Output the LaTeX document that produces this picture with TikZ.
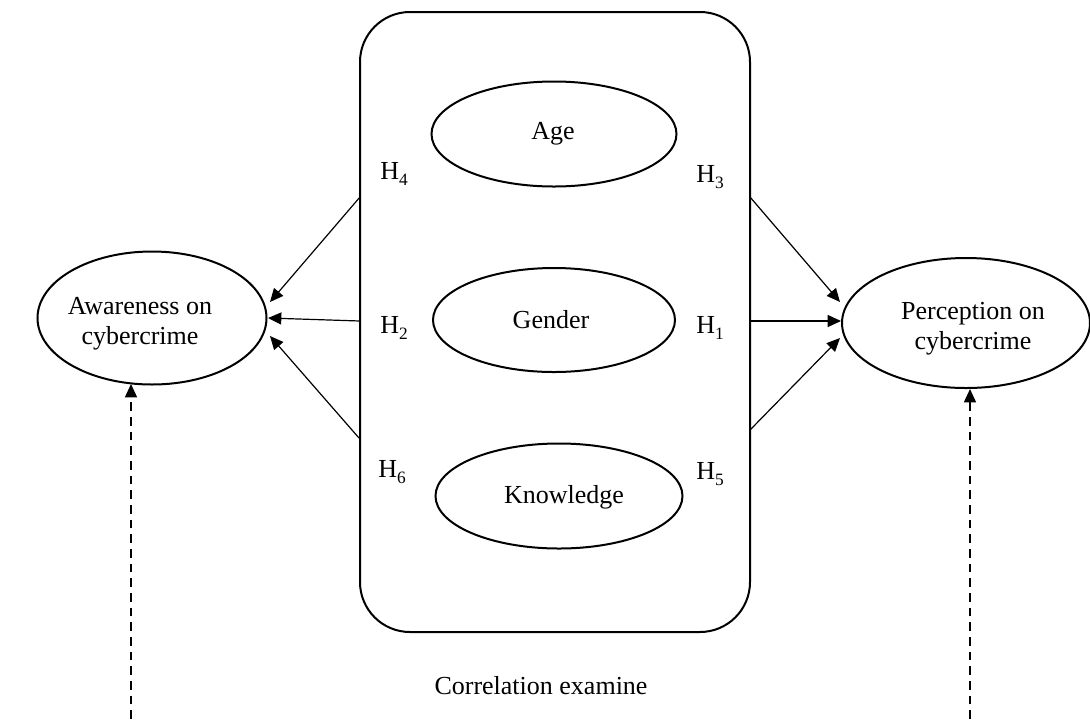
\documentclass[tikz,border=0pt]{standalone}
\usepackage{fontspec}
\setmainfont{Liberation Serif}
\usetikzlibrary{arrows.meta,shapes.geometric}
\newcommand{\hsub}[1]{H\raisebox{-4.5pt}{\fontsize{13}{13}\selectfont #1}}
\begin{document}
\begin{tikzpicture}[x=0.75pt,y=-0.75pt,
  every node/.style={font=\fontsize{19.5}{22.5}\selectfont},
  oval/.style={ellipse,draw,line width=1.5pt,inner sep=0pt},
  txt/.style={align=center,inner sep=0pt},
  frame/.style={rectangle,draw,line width=1.5pt,rounded corners=37.5pt,inner sep=0pt},
  link/.style={line width=0.9pt,-{Triangle[length=10pt,width=9pt]}},
  dlink/.style={line width=1.2pt,dash pattern=on 6.5pt off 4.5pt,-{Triangle[length=10pt,width=9pt]}},
  hlab/.style={inner sep=0pt}]
\useasboundingbox (0,0) rectangle (1090,719);
\node[frame,minimum width=292.5pt,minimum height=465pt] (box) at (555,322) {};
\node[oval,minimum width=183.75pt,minimum height=78.75pt] (age) at (554,134) {};
\node[oval,minimum width=181.5pt,minimum height=78pt] (gender) at (554,320) {};
\node[oval,minimum width=185.25pt,minimum height=78.75pt] (know) at (559,496) {};
\node[oval,minimum width=171.75pt,minimum height=99.75pt] (aware) at (152,318) {};
\node[oval,minimum width=186pt,minimum height=97.5pt] (percep) at (966,323) {};
\node[txt] (agetxt) at (553,134) {Age};
\node[txt] (gendertxt) at (551,320) {Gender};
\node[txt] (knowtxt) at (564,497) {Knowledge};
\node[txt] (awaretxt) at (140,324) {Awareness on\\cybercrime};
\node[txt] (perceptxt) at (973,329) {Perception on\\cybercrime};
\coordinate (l4) at (360,197);
\coordinate (l2) at (360,321);
\coordinate (l6) at (359,438);
\coordinate (r3) at (750,197);
\coordinate (r1) at (750,321);
\coordinate (r5) at (750,430);
\coordinate (a4) at (270,302);
\coordinate (a2) at (268,318);
\coordinate (a6) at (270,336);
\coordinate (p3) at (840,302);
\coordinate (p1) at (841,321);
\coordinate (p5) at (840,338);
\draw[link] (l4) -- (a4);
\draw[link] (l2) -- (a2);
\draw[link] (l6) -- (a6);
\draw[link] (r3) -- (p3);
\draw[link] (r1) -- (p1);
\draw[link] (r5) -- (p5);
\node[hlab] (h4) at (394,174) {\hsub{4}};
\node[hlab] (h2) at (394,328) {\hsub{2}};
\node[hlab] (h6) at (392,472) {\hsub{6}};
\node[hlab] (h3) at (710,177) {\hsub{3}};
\node[hlab] (h1) at (710,328) {\hsub{1}};
\node[hlab] (h5) at (710,474) {\hsub{5}};
\node (corr) at (541,686) {Correlation examine};
\coordinate (da) at (131,719);
\coordinate (db) at (970,719);
\coordinate (dat) at (131,384);
\coordinate (dbt) at (970,389);
\draw[dlink] (da) -- (dat);
\draw[dlink] (db) -- (dbt);
\end{tikzpicture}
\end{document}
